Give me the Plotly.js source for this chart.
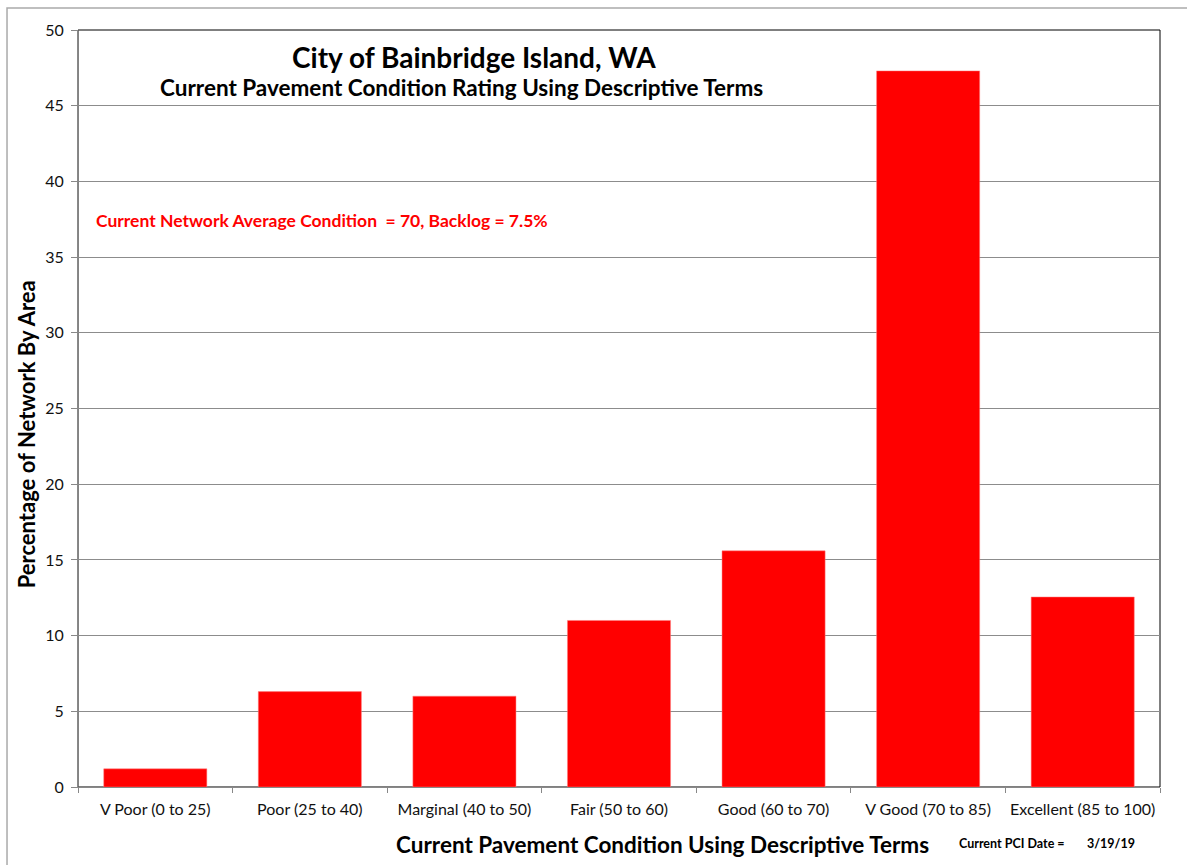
<!DOCTYPE html>
<html><head><meta charset="utf-8">
<script src="https://cdn.plot.ly/plotly-3.0.1.min.js"></script>
<style>html,body{margin:0;padding:0;background:#fff;}#chart{width:1187px;height:865px;}</style>
</head><body><div id="chart"></div>
<script>
const categories = ["V Poor (0 to 25)", "Poor (25 to 40)", "Marginal (40 to 50)", "Fair (50 to 60)", "Good (60 to 70)", "V Good (70 to 85)", "Excellent (85 to 100)"];
const percentByArea = [1.2, 6.3, 6.0, 11.0, 15.6, 47.3, 12.55];
const yTicks = [0, 5, 10, 15, 20, 25, 30, 35, 40, 45, 50];

const FONT = "Lato, 'Open Sans', sans-serif";
const trace = {
  type: "bar", x: categories, y: percentByArea,
  marker: {color: "#ff0000", line: {color: "#ff8080", width: 0.5}},
  hoverinfo: "x+y"
};
const layout = {
  width: 1187, height: 865,
  margin: {l: 78, r: 27, t: 30, b: 78},
  paper_bgcolor: "#fff", plot_bgcolor: "#fff",
  bargap: 0.333,
  showlegend: false,
  font: {family: FONT, color: "#111"},
  xaxis: {
    type: "category", showgrid: false, showline: true, linecolor: "#888", linewidth: 1,
    ticks: "outside", ticklen: 5, tickcolor: "#888", tickson: "boundaries",
    tickfont: {size: 16, family: FONT, color: "#111"}, ticklabelstandoff: 8,
    mirror: false
  },
  yaxis: {
    range: [0, 50], tickvals: yTicks, showgrid: true, gridcolor: "#8c8c8c", gridwidth: 1,
    showline: true, linecolor: "#888", linewidth: 1, ticks: "outside", ticklen: 6, tickcolor: "#888",
    tickfont: {size: 16, family: FONT, color: "#111"}, zeroline: false, ticklabelstandoff: 4
  },
  shapes: [
    {type: "rect", xref: "paper", yref: "paper", x0: 0, x1: 1, y0: 0, y1: 1, line: {color: "#000", width: 1}, layer: "below", fillcolor: "rgba(0,0,0,0)"},
    {type: "line", xref: "paper", yref: "paper", x0: 0, x1: 0, y0: 0, y1: 1, line: {color: "#888", width: 1}},
    {type: "rect", xref: "paper", yref: "paper", x0: -0.0656, x1: 1.1, y0: -0.2, y1: 1.029, line: {color: "#aaa", width: 1.5}, layer: "below"}
  ],
  annotations: [
    {xref: "paper", yref: "paper", x: 0.366, y: 0.964, xanchor: "center", yanchor: "middle", showarrow: false,
     text: "<b>City of Bainbridge Island, WA</b>", font: {size: 28, family: FONT, color: "#000"}},
    {xref: "paper", yref: "paper", x: 0.354, y: 0.924, xanchor: "center", yanchor: "middle", showarrow: false,
     text: "<b>Current Pavement Condition Rating Using Descriptive Terms</b>", font: {size: 22.5, family: FONT, color: "#000"}},
    {xref: "paper", yref: "paper", x: 0.015, y: 0.748, xanchor: "left", yanchor: "middle", showarrow: false,
     text: "<b>Current Network Average Condition  = 70, Backlog = 7.5%</b>", font: {size: 17.5, family: FONT, color: "#ff0000"}},
    {xref: "paper", yref: "paper", x: -0.048, y: 0.466, xanchor: "center", yanchor: "middle", showarrow: false, textangle: -90,
     text: "<b>Percentage of Network By Area</b>", font: {size: 22, family: FONT, color: "#000"}},
    {xref: "paper", yref: "paper", x: 0.54, y: -0.0766, xanchor: "center", yanchor: "middle", showarrow: false,
     text: "<b>Current Pavement Condition Using Descriptive Terms</b>", font: {size: 22.5, family: FONT, color: "#000"}},
    {xref: "paper", yref: "paper", x: 0.812, y: -0.075, xanchor: "left", yanchor: "middle", showarrow: false,
     text: "<b>Current PCI Date =</b>", font: {size: 12.5, family: FONT, color: "#000"}},
    {xref: "paper", yref: "paper", x: 0.931, y: -0.075, xanchor: "left", yanchor: "middle", showarrow: false,
     text: "<b>3/19/19</b>", font: {size: 12.5, family: FONT, color: "#000"}}
  ]
};
Plotly.newPlot("chart", [trace], layout, {displayModeBar: false, staticPlot: true});
</script></body></html>
